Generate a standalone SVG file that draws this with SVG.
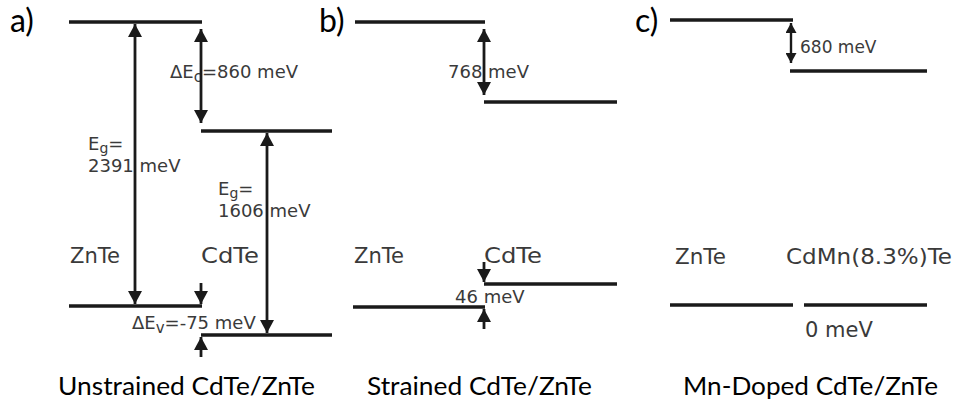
<svg xmlns="http://www.w3.org/2000/svg" width="955" height="406" viewBox="0 0 955 406">
<style>
.lvl{stroke:#1a1a1a;stroke-width:3.5;fill:none}
.arr{stroke:#1a1a1a;stroke-width:2.8;fill:none;marker-end:url(#ah)}
.arr2{stroke:#1a1a1a;stroke-width:2.8;fill:none;marker-start:url(#ah);marker-end:url(#ah)}
.arr3{stroke:#1a1a1a;stroke-width:2.4;fill:none;marker-start:url(#ahs);marker-end:url(#ahs)}
.lab{font-family:"DejaVu Sans",sans-serif;fill:#3a3a3a}
.ttl{font-family:Lato,"Liberation Sans",sans-serif;fill:#000}
</style>
<defs>
<marker id="ah" markerUnits="userSpaceOnUse" markerWidth="13" markerHeight="14" refX="13" refY="7" orient="auto-start-reverse" viewBox="0 0 13 14">
<path d="M0,0 L13,7 L0,14 z" fill="#1a1a1a"/>
</marker>
<marker id="ahs" markerUnits="userSpaceOnUse" markerWidth="10" markerHeight="11" refX="10" refY="5.5" orient="auto-start-reverse" viewBox="0 0 10 11">
<path d="M0,0 L10,5.5 L0,11 z" fill="#1a1a1a"/>
</marker>
</defs>

<!-- Panel a -->
<g id="a-panel-label"><text class="ttl" x="10" y="32" font-size="32">a)</text></g>
<g id="a-znte-cb"><line class="lvl" x1="69" y1="22" x2="202" y2="22"/></g>
<g id="a-cdte-cb"><line class="lvl" x1="201" y1="131" x2="332" y2="131"/></g>
<g id="a-znte-vb"><line class="lvl" x1="69" y1="306" x2="202" y2="306"/></g>
<g id="a-cdte-vb"><line class="lvl" x1="201" y1="335" x2="332" y2="335"/></g>
<g id="a-labels">
<text class="lab" x="170" y="78" font-size="18">ΔE<tspan dy="4" font-size="15">c</tspan><tspan dy="-4">=860 meV</tspan></text>
<text class="lab" x="88" y="150" font-size="18">E<tspan dy="3" font-size="14">g</tspan><tspan dy="-3">=</tspan></text>
<text class="lab" x="88" y="172" font-size="18">2391 meV</text>
<text class="lab" x="218" y="195" font-size="18">E<tspan dy="3" font-size="14">g</tspan><tspan dy="-3">=</tspan></text>
<text class="lab" x="218" y="217" font-size="18">1606 meV</text>
<text class="lab" x="70" y="263" font-size="21" textLength="50" lengthAdjust="spacingAndGlyphs">ZnTe</text>
<text class="lab" x="201" y="263" font-size="21" textLength="58" lengthAdjust="spacingAndGlyphs">CdTe</text>
<text class="lab" x="132" y="329" font-size="18">ΔE<tspan dy="4" font-size="15">v</tspan><tspan dy="-4">=-75 meV</tspan></text>
</g>
<g id="a-title"><text class="ttl" x="58" y="395" font-size="25" textLength="257" lengthAdjust="spacingAndGlyphs">Unstrained CdTe/ZnTe</text></g>

<!-- Panel b -->
<g id="b-panel-label"><text class="ttl" x="319" y="32" font-size="32">b)</text></g>
<g id="b-znte-cb"><line class="lvl" x1="355" y1="22" x2="485" y2="22"/></g>
<g id="b-cdte-cb"><line class="lvl" x1="484" y1="102" x2="617" y2="102"/></g>
<g id="b-cdte-vb"><line class="lvl" x1="484" y1="284" x2="617" y2="284"/></g>
<g id="b-znte-vb"><line class="lvl" x1="353" y1="307" x2="485" y2="307"/></g>
<g id="b-labels">
<text class="lab" x="448" y="78" font-size="18">768 meV</text>
<text class="lab" x="354" y="263" font-size="21" textLength="50" lengthAdjust="spacingAndGlyphs">ZnTe</text>
<text class="lab" x="484" y="263" font-size="21" textLength="58" lengthAdjust="spacingAndGlyphs">CdTe</text>
<text class="lab" x="455" y="303" font-size="18">46 meV</text>
</g>
<g id="b-title"><text class="ttl" x="367" y="395" font-size="25" textLength="225" lengthAdjust="spacingAndGlyphs">Strained CdTe/ZnTe</text></g>

<!-- Panel c -->
<g id="c-panel-label"><text class="ttl" x="635" y="32" font-size="32">c)</text></g>
<g id="c-znte-cb"><line class="lvl" x1="670" y1="20" x2="793" y2="20"/></g>
<g id="c-cdmnte-cb"><line class="lvl" x1="790" y1="71" x2="927" y2="71"/></g>
<g id="c-znte-vb"><line class="lvl" x1="670" y1="305" x2="793" y2="305"/></g>
<g id="c-cdmnte-vb"><line class="lvl" x1="804" y1="305" x2="927" y2="305"/></g>
<g id="c-labels">
<text class="lab" x="800" y="53" font-size="17">680 meV</text>
<text class="lab" x="675" y="264" font-size="21" textLength="51" lengthAdjust="spacingAndGlyphs">ZnTe</text>
<text class="lab" x="786" y="264" font-size="21" textLength="166" lengthAdjust="spacingAndGlyphs">CdMn(8.3%)Te</text>
<text class="lab" x="805" y="337" font-size="21">0 meV</text>
</g>
<g id="c-title"><text class="ttl" x="683" y="395" font-size="25" textLength="255" lengthAdjust="spacingAndGlyphs">Mn-Doped CdTe/ZnTe</text></g>

<!-- Connectors -->
<g id="connectors">
<line class="arr2" x1="135" y1="24" x2="135" y2="304"/>
<line class="arr2" x1="201" y1="29" x2="201" y2="123"/>
<line class="arr2" x1="267" y1="133" x2="267" y2="333"/>
<line class="arr" x1="201" y1="283" x2="201" y2="304"/>
<line class="arr" x1="201" y1="357" x2="201" y2="337"/>
<line class="arr2" x1="484" y1="29" x2="484" y2="95"/>
<line class="arr" x1="484" y1="262" x2="484" y2="282"/>
<line class="arr" x1="484" y1="329" x2="484" y2="309"/>
<line class="arr3" x1="791" y1="23" x2="791" y2="63"/>
</g>
</svg>
